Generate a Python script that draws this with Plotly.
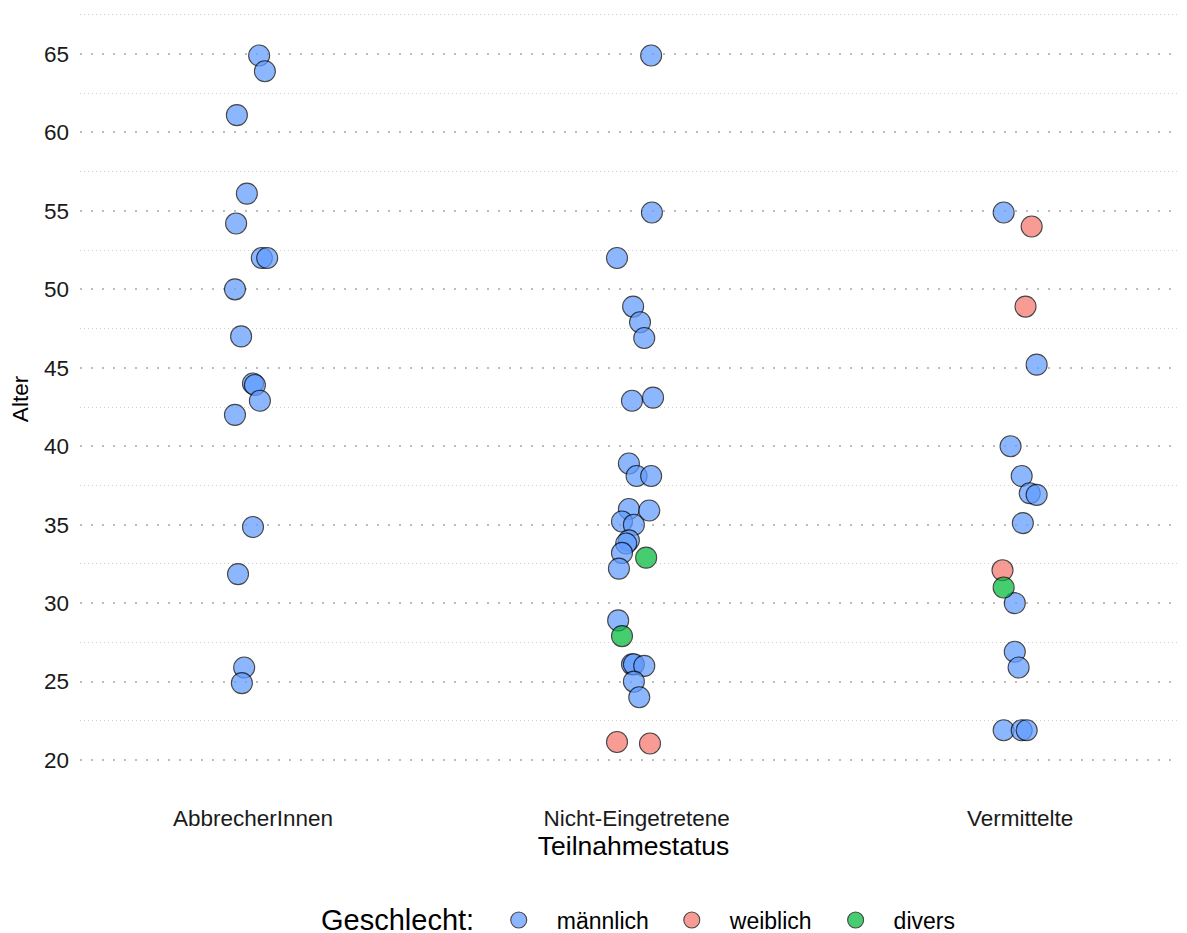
import plotly.graph_objects as go

# Categories (x) and tick labels
categories = ["AbbrecherInnen", "Nicht-Eingetretene", "Vermittelte"]
y_ticks = [20, 25, 30, 35, 40, 45, 50, 55, 60, 65]

# Gender groups and colours
genders = ["männlich", "weiblich", "divers"]
colors = {"männlich": "#619CFF", "weiblich": "#F8766D", "divers": "#00BA38"}

# --- Data (status, gender, age, horizontal jitter) ---
abbrecher_gender = ["männlich"] * 17
abbrecher_age = [64.9, 63.9, 61.1, 56.1, 54.2, 52.0, 52.0, 50.0, 47.0, 44.0,
                 43.9, 42.9, 42.0, 34.85, 31.85, 25.9, 24.9]
abbrecher_jitter = [0.016, 0.031, -0.042, -0.016, -0.044, 0.023, 0.037, -0.047,
                    -0.031, 0.0, 0.005, 0.018, -0.047, 0.0, -0.039, -0.023, -0.029]

nicht_gender = ["männlich"] * 25 + ["divers"] * 2 + ["weiblich"] * 2
nicht_age = [64.9, 54.9, 52.0, 48.9, 47.9, 46.9, 42.9, 43.1, 38.9, 38.1,
             38.1, 36.0, 35.9, 35.2, 35.0, 34.0, 33.8, 33.2, 32.2, 28.9,
             26.1, 26.1, 26.0, 25.0, 24.0,
             32.9, 27.9,
             21.15, 21.05]
nicht_jitter = [0.038, 0.040, -0.051, -0.009, 0.009, 0.020, -0.012, 0.043, -0.020, 0.0,
                0.038, -0.020, 0.033, -0.038, -0.007, -0.020, -0.027, -0.038, -0.046, -0.048,
                -0.012, -0.007, 0.020, -0.007, 0.007,
                0.025, -0.038,
                -0.051, 0.035]

verm_gender = ["männlich", "weiblich", "weiblich", "männlich", "männlich", "männlich",
               "männlich", "männlich", "männlich", "weiblich", "divers", "männlich",
               "männlich", "männlich", "männlich", "männlich", "männlich"]
verm_age = [54.9, 54.0, 48.9, 45.2, 40.0, 38.1, 37.0, 36.9, 35.1, 32.1, 31.0, 30.0,
            26.9, 25.9, 21.9, 21.9, 21.9]
verm_jitter = [-0.043, 0.030, 0.014, 0.043, -0.025, 0.004, 0.025, 0.043, 0.007, -0.046,
               -0.043, -0.014, -0.014, -0.004, -0.043, 0.004, 0.017]

groups = [
    (categories[0], abbrecher_gender, abbrecher_age, abbrecher_jitter),
    (categories[1], nicht_gender, nicht_age, nicht_jitter),
    (categories[2], verm_gender, verm_age, verm_jitter),
]

fig = go.Figure()
for g in genders:
    xs, ys = [], []
    for ci, (cat, gl, al, jl) in enumerate(groups):
        for gg, a, j in zip(gl, al, jl):
            if gg == g:
                xs.append(ci + 1 + j)
                ys.append(a)
    fig.add_trace(go.Scatter(
        x=xs, y=ys, mode="markers", name=g,
        marker=dict(size=21, color=colors[g], opacity=0.72,
                    line=dict(color="black", width=1.1)),
    ))

font_family = "Liberation Sans, Arial, Helvetica, sans-serif"

# page body has an 8px margin, so the figure is sized 8px smaller each way
fig.update_layout(
    width=1179, height=925,
    margin=dict(l=72, r=0, t=0, b=143, autoexpand=False),
    paper_bgcolor="white", plot_bgcolor="white",
    font=dict(family=font_family, color="black"),
    showlegend=True,
    legend=dict(
        orientation="h", x=0.362, xanchor="left",
        yref="container", y=0.014, yanchor="middle",
        font=dict(size=23), itemwidth=66, tracegroupgap=0,
        bgcolor="rgba(0,0,0,0)",
    ),
    annotations=[dict(
        text="Geschlecht:", xref="paper", yref="paper",
        x=(476 - 80) / 1107, xanchor="right", y=-0.1662, yanchor="middle",
        showarrow=False, font=dict(size=29, color="black"),
    )],
    xaxis=dict(
        range=[0.549, 3.435], automargin=False,
        tickvals=[1, 2, 3], ticktext=categories,
        showgrid=False, zeroline=False, showline=False, ticks="",
        tickfont=dict(size=22.5, color="#1a1a1a"), ticklabelstandoff=12,
        title=dict(text="Teilnahmestatus", font=dict(size=26.5), standoff=6),
    ),
    yaxis=dict(
        range=[18.09, 67.93], automargin=False,
        tickvals=y_ticks, ticktext=[str(t) for t in y_ticks],
        showgrid=True, gridcolor="#BDBDBD", gridwidth=1.6, griddash="2px,9px",
        minor=dict(tickvals=[22.5, 27.5, 32.5, 37.5, 42.5, 47.5, 52.5, 57.5, 62.5, 67.5],
                   showgrid=True, gridcolor="#CFCFCF", gridwidth=1, griddash="1px,3px"),
        zeroline=False, showline=False, ticks="",
        tickfont=dict(size=22.5, color="#1a1a1a"), ticklabelstandoff=10,
        title=dict(text="Alter", font=dict(size=22.5), standoff=10),
    ),
)

fig.write_html("out.html")
